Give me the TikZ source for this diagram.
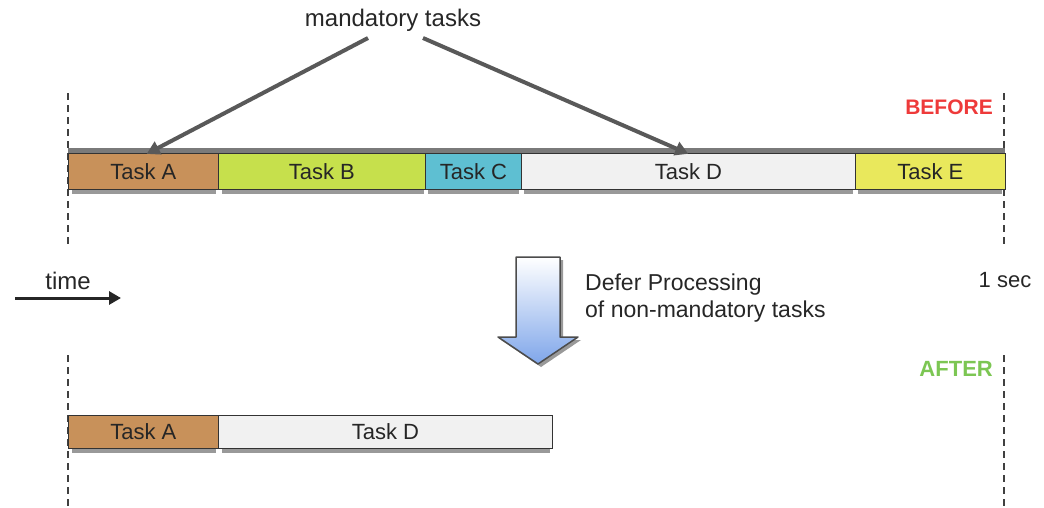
\documentclass[tikz,border=0pt]{standalone}
\usepackage{fontspec}
\setmainfont{Liberation Sans}
\usetikzlibrary{arrows.meta}
\definecolor{cA}{HTML}{C8915A}
\definecolor{cB}{HTML}{C6E04C}
\definecolor{cC}{HTML}{5EBFD2}
\definecolor{cD}{HTML}{F1F1F1}
\definecolor{cE}{HTML}{E9E85C}
\definecolor{beforeRed}{HTML}{EE3A3A}
\definecolor{afterGreen}{HTML}{7CC653}
\definecolor{arrowBlue}{HTML}{7FA6EA}
\definecolor{barGray}{HTML}{7A7A7A}
\begin{document}
\begin{tikzpicture}[x=1pt,y=-1pt,
  font=\fontsize{22}{26}\selectfont,
  task/.style={draw=black!80, line width=0.8pt, inner sep=0pt, anchor=north west, text=black!85},
  upper/.style={task, minimum height=36pt},
  lower/.style={task, minimum height=33pt},
  shade/.style={fill=black!40},
  timeline/.style={draw=black!75, line width=2pt, dash pattern=on 7pt off 5pt},
  pointer/.style={draw=black!65, line width=4pt, -{Triangle[length=13pt,width=14pt]}, shorten >=-2pt},
  lbl/.style={inner sep=0pt, text=black!85}
]
\useasboundingbox (0,0) rectangle (1044,507);

% timelines
\draw[timeline] (68,93) -- (68,246);
\draw[timeline] (68,355) -- (68,506);
\draw[timeline] (1004,93) -- (1004,246);
\draw[timeline] (1004,355) -- (1004,506);

% upper bar: gray top band and shadows
\fill[barGray] (68,148) rectangle (1005,153);
\fill[shade] (72,189) rectangle (216,194);
\fill[shade] (222,189) rectangle (424,194);
\fill[shade] (428,189) rectangle (519,194);
\fill[shade] (524,189) rectangle (853,194);
\fill[shade] (858,189) rectangle (1002,194);

\node[upper, fill=cA, minimum width=150pt] (tA) at (68,153) {Task A};
\node[upper, fill=cB, minimum width=207pt] (tB) at (218,153) {Task B};
\node[upper, fill=cC, minimum width=96pt]  (tC) at (425,153) {Task C};
\node[upper, fill=cD, minimum width=334pt] (tD) at (521,153) {Task D};
\node[upper, fill=cE, minimum width=150pt] (tE) at (855,153) {Task E};

% lower bar
\fill[shade] (72,448) rectangle (216,453);
\fill[shade] (222,448) rectangle (550,453);
\node[lower, fill=cA, minimum width=150pt] (lA) at (68,415) {Task A};
\node[lower, fill=cD, minimum width=334pt] (lD) at (218,415) {Task D};

% mandatory tasks
\node[lbl, font=\fontsize{24}{28}\selectfont] (mt) at (393,20) {mandatory tasks};
\coordinate (m1) at (368,38);
\coordinate (m2) at (423,38);
\draw[pointer] (m1) -- ([xshift=5pt]tA.north);
\draw[pointer] (m2) -- ([xshift=-2pt]tD.north);

% labels
\node[lbl, text=beforeRed, font=\fontsize{21}{25}\selectfont\bfseries, anchor=east] (before) at (993,107) {BEFORE};
\node[lbl, text=afterGreen, font=\fontsize{22}{25}\selectfont\bfseries, anchor=east] (after) at (993,369) {AFTER};
\node[lbl] (sec) at (1005,280) {1 sec};
\node[lbl, font=\fontsize{24}{28}\selectfont] (time) at (68,281) {time};
\coordinate (t0) at (15,298);
\coordinate (t1) at (121,298);
\draw[draw=black!85, line width=3pt, -{Triangle[length=12pt,width=13pt]}] (t0) -- (t1);

% big arrow
\fill[black!40] (519,260) -- (563,260) -- (563,340) -- (581,340) -- (541,367) -- (501,340) -- (519,340) -- cycle;
\draw[draw=black!70, line width=1.5pt, top color=white, bottom color=arrowBlue, line join=round]
  (516,257) -- (560,257) -- (560,337) -- (578,337) -- (538,364) -- (498,337) -- (516,337) -- cycle;

\node[lbl, anchor=west, align=left, font=\fontsize{23}{27}\selectfont] (defer) at (585,298)
  {Defer Processing\\of non-mandatory tasks};
\end{tikzpicture}
\end{document}
